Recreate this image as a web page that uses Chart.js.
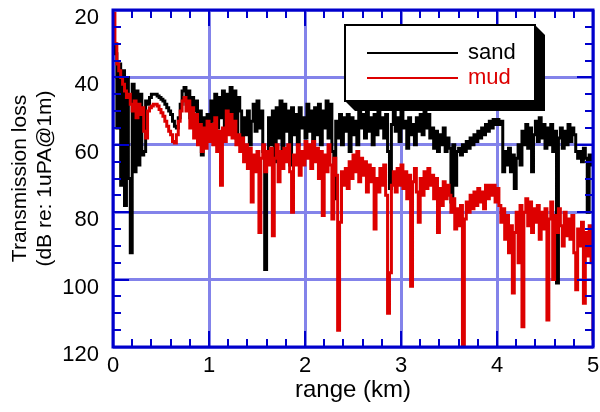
<!DOCTYPE html>
<html><head><meta charset="utf-8">
<script src="https://cdn.jsdelivr.net/npm/chart.js@4/dist/chart.umd.min.js"></script>
<style>html,body{margin:0;padding:0;background:#fff;overflow:hidden}#wrap{width:600px;height:412px;position:relative}</style>
</head><body><div id="wrap"><canvas id="c" width="600" height="412"></canvas></div>
<script>
// ---- data ----
const rangeKm = [
0,0.02,0.04,0.06,0.08,0.1,0.12,0.14,0.16,0.18,
0.2,0.22,0.24,0.26,0.28,0.3,0.32,0.34,0.36,0.38,
0.4,0.42,0.44,0.46,0.48,0.5,0.52,0.54,0.56,0.58,
0.6,0.62,0.64,0.66,0.68,0.7,0.72,0.74,0.76,0.78,
0.8,0.82,0.84,0.86,0.88,0.9,0.92,0.94,0.96,0.98,
1,1.02,1.04,1.06,1.08,1.1,1.12,1.14,1.16,1.18,
1.2,1.22,1.24,1.26,1.28,1.3,1.32,1.34,1.36,1.38,
1.4,1.42,1.44,1.46,1.48,1.5,1.52,1.54,1.56,1.58,
1.6,1.62,1.64,1.66,1.68,1.7,1.72,1.74,1.76,1.78,
1.8,1.82,1.84,1.86,1.88,1.9,1.92,1.94,1.96,1.98,
2,2.02,2.04,2.06,2.08,2.1,2.12,2.14,2.16,2.18,
2.2,2.22,2.24,2.26,2.28,2.3,2.32,2.34,2.36,2.38,
2.4,2.42,2.44,2.46,2.48,2.5,2.52,2.54,2.56,2.58,
2.6,2.62,2.64,2.66,2.68,2.7,2.72,2.74,2.76,2.78,
2.8,2.82,2.84,2.86,2.88,2.9,2.92,2.94,2.96,2.98,
3,3.02,3.04,3.06,3.08,3.1,3.12,3.14,3.16,3.18,
3.2,3.22,3.24,3.26,3.28,3.3,3.32,3.34,3.36,3.38,
3.4,3.42,3.44,3.46,3.48,3.5,3.52,3.54,3.56,3.58,
3.6,3.62,3.64,3.66,3.68,3.7,3.72,3.74,3.76,3.78,
3.8,3.82,3.84,3.86,3.88,3.9,3.92,3.94,3.96,3.98,
4,4.02,4.04,4.06,4.08,4.1,4.12,4.14,4.16,4.18,
4.2,4.22,4.24,4.26,4.28,4.3,4.32,4.34,4.36,4.38,
4.4,4.42,4.44,4.46,4.48,4.5,4.52,4.54,4.56,4.58,
4.6,4.62,4.64,4.66,4.68,4.7,4.72,4.74,4.76,4.78,
4.8,4.82,4.84,4.86,4.88,4.9,4.92,4.94,4.96,4.98,
5];

const sandTL = [
30,33,55,36,72,38,78,40,70,92,
42,68,44,66,45,63,62,47,48,46,
45,45,45,45.5,46,46.5,47,48,49,50,
51,53,54.5,55,52,48,44,43,48,44,
52,46,50,47,55,50,63,52,56,51,
57,47,53,45,55,46,52,44,56,45,
51,43,54,44,58,46,50,62,52,57,
50,60,53,48,56,47,55,50,62,97,
64,52,60,50,65,49,58,47,62,48,
56,50,66,49,57,51,60,49,55,52,
58,48,56,50,62,49,57,48,60,50,
55,47,58,48,62,76,53,58,51,60,
52,56,51,62,52,57,53,60,50,55,
51,58,50,56,52,60,51,57,50,55,
52,58,51,62,73,54,50,56,52,59,
50,55,53,61,52,57,54,60,52,56,
51,57,50,55,51,58,55,61,56,62,
57,60,55,62,58,61,77,60,72,62,
61,63,60,62,59,61,58,60,57,59,
56,58,55,57,54,56,53,55,52.5,54,
52.5,54,53,68,62,66,61,68,63,73,
64,60,66,56,60,54,61,55,68,57,
53,59,52,58,54,61,55,60,54,62,
56,101,58,55,61,56,60,54,59,55,
57,62,64,62,65,61,64,80,63,66,
63];

const mudTL = [
21,30,36,38,40,42,44,46,45,48,
50,47,52,48,51,49,56,58,50,49,
48.5,48,48,48.5,49.5,50.5,51.5,53,54.5,56,
57,59,59.5,57,53,50,47,46,50,47,
55,49,58,51,60,54,62,55,61,53,
59,54,60,52,62,56,72,55,59,50,
57,51,58,53,60,57,62,58,65,60,
67,61,77,63,68,62,86,64,60,68,
62,66,61,87,64,60,71,62,67,61,
65,60,68,80,63,66,60,69,62,66,
59,64,60,67,59,65,61,70,62,81,
63,68,60,66,82,64,69,115,83,68,
72,67,73,65,70,63,68,62,71,64,
69,65,74,66,71,67,85,70,74,67,
72,66,75,110,98,72,68,74,67,72,
66,73,68,76,69,102,71,67,74,83,
70,75,68,73,67,72,69,76,70,86,
73,78,71,76,72,75,80,76,85,79,
84,78,120,82,77,80,75,79,74,78,
73,77,74,79,72,76,72,75,72,77,
73,78,83,79,88,81,92,84,104,86,
80,95,78,114,80,76,84,77,86,79,
83,78,88,80,85,79,112,82,77,100,
81,86,79,84,90,80,87,82,88,81,
92,103,85,90,83,107,86,93,84,95,
118];

const seriesNames = ['sand', 'mud'];
const xTickLabels = ['0', '1', '2', '3', '4', '5'];
const yTickLabels = ['20', '40', '60', '80', '100', '120'];
const xAxisTitle = 'range (km)';
const yAxisTitle = ['Transmission loss', '(dB re: 1uPA@1m)'];

// ---- styling ----
const FONT = "'Liberation Sans', Arial, Helvetica, sans-serif";
const AXIS_BLUE = '#0000cc';
const GRID_BLUE = '#8383ea';
Chart.defaults.font.family = FONT;
Chart.defaults.color = '#000';

const framePlugin = {
  id: 'frame',
  afterDraw(chart) {
    const c = chart.ctx, a = chart.chartArea;
    const xs = chart.scales.x, ys = chart.scales.y;
    c.save();
    c.strokeStyle = AXIS_BLUE;
    c.lineWidth = 2;
    c.beginPath();
    for (let v = 25; v < 120; v += 5) {
      const p = Math.round(ys.getPixelForValue(v));
      const len = (v % 20 === 0) ? 16 : 8;
      c.moveTo(a.left, p); c.lineTo(a.left + len, p);
      c.moveTo(a.right, p); c.lineTo(a.right - len, p);
    }
    for (let k = 1; k < 25; k++) {
      const v = k / 5;
      const p = Math.round(xs.getPixelForValue(v));
      const len = (k % 5 === 0) ? 16 : 8;
      c.moveTo(p, a.bottom); c.lineTo(p, a.bottom - len);
      c.moveTo(p, a.top); c.lineTo(p, a.top + len);
    }
    c.stroke();
    c.lineWidth = 3;
    c.strokeRect(a.left, a.top, a.right - a.left, a.bottom - a.top);
    c.restore();

    // axis titles
    c.save();
    c.fillStyle = '#000';
    c.font = '24px ' + FONT;
    c.textAlign = 'center';
    c.textBaseline = 'middle';
    c.fillText(xAxisTitle, (a.left + a.right) / 2, 390);
    c.translate(0, (a.top + a.bottom) / 2);
    c.rotate(-Math.PI / 2);
    c.font = '21px ' + FONT;
    c.fillText(yAxisTitle[0], 0, 20);
    c.fillText(yAxisTitle[1], 0, 45);
    c.restore();

    // legend box with 3D shadow
    const L = 345, T = 25, R = 535, B = 101, D = 10;
    c.save();
    c.fillStyle = '#000';
    c.beginPath();
    c.moveTo(R, T); c.lineTo(R + D, T + D); c.lineTo(R + D, B + D);
    c.lineTo(L + D, B + D); c.lineTo(L, B); c.closePath(); c.fill();
    c.fillStyle = '#fff';
    c.fillRect(L, T, R - L, B - T);
    c.lineWidth = 2; c.strokeStyle = '#000';
    c.strokeRect(L, T, R - L, B - T);
    c.font = '22px ' + FONT;
    c.textBaseline = 'middle';
    c.textAlign = 'left';
    chart.data.datasets.forEach((ds, i) => {
      const y = 53 + i * 25;
      c.strokeStyle = ds.borderColor; c.lineWidth = 2;
      c.beginPath(); c.moveTo(367, y); c.lineTo(458, y); c.stroke();
      c.fillStyle = ds.borderColor;
      c.fillText(ds.label, 468, y);
    });
    c.restore();
  }
};

const mk = (arr) => rangeKm.map((x, i) => ({ x: x, y: arr[i] }));

new Chart(document.getElementById('c'), {
  type: 'line',
  data: {
    datasets: [
      { label: seriesNames[0], data: mk(sandTL), borderColor: '#000000', borderWidth: 3,
        pointRadius: 0, stepped: true, fill: false, order: 2 },
      { label: seriesNames[1], data: mk(mudTL), borderColor: '#dd0000', borderWidth: 3,
        pointRadius: 0, stepped: true, fill: false, order: 1 }
    ]
  },
  options: {
    responsive: false,
    animation: false,
    devicePixelRatio: 1,
    layout: { padding: { left: 0, top: 10, right: 7, bottom: 0 } },
    plugins: { legend: { display: false }, tooltip: { enabled: false } },
    scales: {
      x: {
        type: 'linear', min: 0, max: 5,
        afterFit(s) { s.height = 65; s.paddingLeft = 0; s.paddingRight = 0; },
        border: { display: false },
        grid: { color: GRID_BLUE, lineWidth: 3, drawTicks: false },
        ticks: {
          stepSize: 1, padding: 6, autoSkip: false, maxRotation: 0,
          font: { size: 22 }, color: '#000',
          callback: (v) => xTickLabels[Math.round(v)] ?? ''
        }
      },
      y: {
        type: 'linear', min: 20, max: 120, reverse: true,
        afterFit(s) { s.width = 113; s.paddingTop = 0; s.paddingBottom = 0; },
        border: { display: false },
        grid: { color: GRID_BLUE, lineWidth: 3, drawTicks: false },
        ticks: {
          stepSize: 20, padding: 14, labelOffset: 8, autoSkip: false,
          font: { size: 22 }, color: '#000',
          callback: (v) => yTickLabels[Math.round((v - 20) / 20)] ?? ''
        }
      }
    }
  },
  plugins: [framePlugin]
});
</script>
</body></html>
